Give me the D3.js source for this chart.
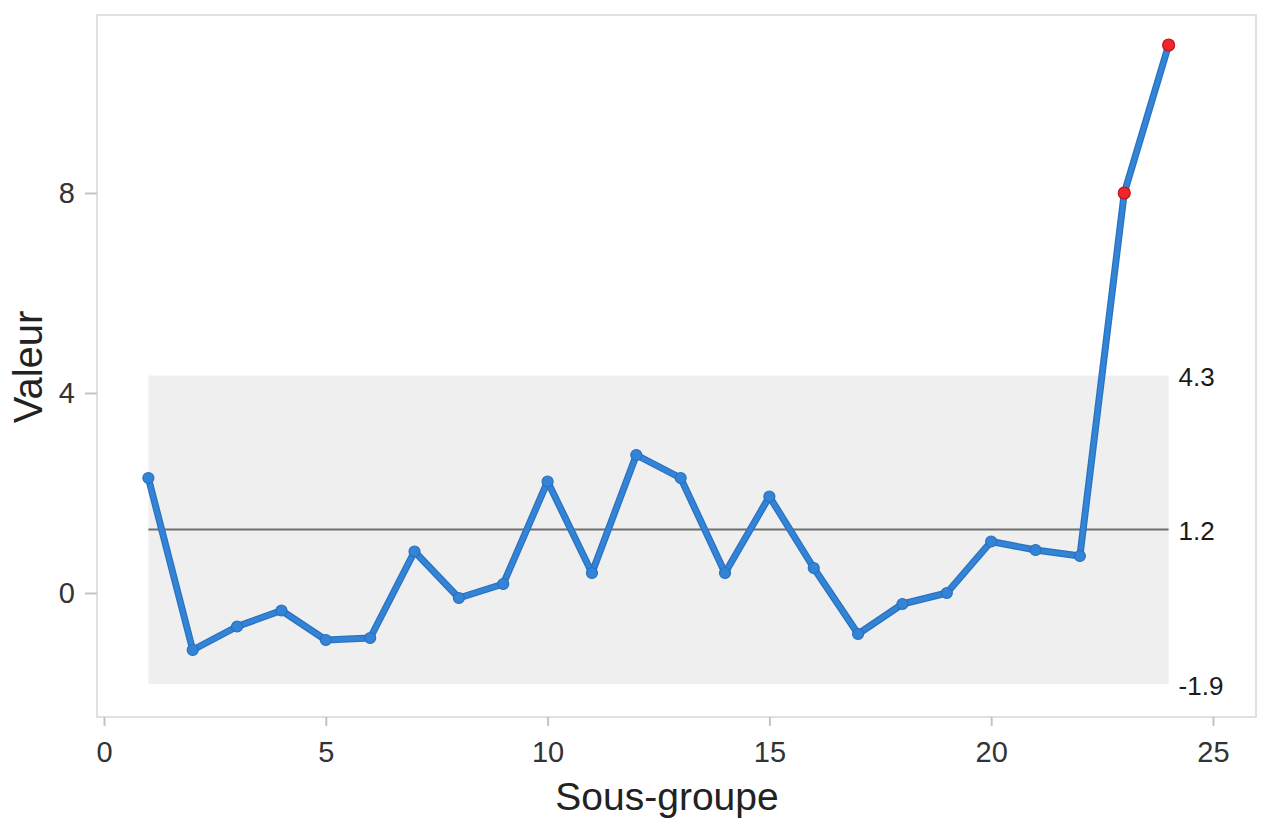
<!DOCTYPE html>
<html>
<head>
<meta charset="utf-8">
<script src="https://cdn.jsdelivr.net/npm/d3@7"></script>
<style>
  body { margin: 0; background: #fff; }
  svg { display: block; font-family: "Liberation Sans", Arial, sans-serif; }
</style>
</head>
<body>
<div id="chart"></div>
<script>
// subgroups and measured values
const subgroups = d3.range(1, 25);
const values = [2.3, -1.14, -0.67, -0.35, -0.94, -0.9, 0.83, -0.1, 0.18, 2.23,
                0.4, 2.76, 2.3, 0.4, 1.93, 0.5, -0.82, -0.22, 0.0, 1.03,
                0.86, 0.74, 8.0, 10.96];

// control limits
const limitValues = [4.35, 1.27, -1.82];
const limitLabels = ["4.3", "1.2", "-1.9"];

const xTicks = [0, 5, 10, 15, 20, 25];
const yTicks = [0, 4, 8];

const W = 1265, H = 832;
const mLeft = 97, mRight = 1256, mTop = 15, mBottom = 717;

const x = d3.scaleLinear().domain([-0.158, 25.97]).range([mLeft, mRight]);
const y = d3.scaleLinear().domain([-2.48, 11.56]).range([mBottom, mTop]);

const data = subgroups.map((s, i) => ({ s, v: values[i] }));
const [ucl, cl, lcl] = limitValues;
const xFirst = x(subgroups[0]), xLast = x(subgroups[subgroups.length - 1]);

const svg = d3.select('#chart').append('svg')
  .attr('width', W)
  .attr('height', H);

// control band
svg.append('rect')
  .attr('x', xFirst)
  .attr('y', y(ucl))
  .attr('width', xLast - xFirst)
  .attr('height', y(lcl) - y(ucl))
  .attr('fill', '#efefef');

// centre line
svg.append('line')
  .attr('x1', xFirst)
  .attr('x2', xLast)
  .attr('y1', y(cl))
  .attr('y2', y(cl))
  .attr('stroke', '#6f6f6f')
  .attr('stroke-width', 2);

// frame
svg.append('rect')
  .attr('x', mLeft)
  .attr('y', mTop)
  .attr('width', mRight - mLeft)
  .attr('height', mBottom - mTop)
  .attr('fill', 'none')
  .attr('stroke', '#e0e0e0')
  .attr('stroke-width', 2);

// axes
const xAxis = svg.append('g')
  .attr('transform', `translate(0,${mBottom})`)
  .call(d3.axisBottom(x).tickValues(xTicks).tickSize(9).tickPadding(15).tickFormat(d3.format('d')));
const yAxis = svg.append('g')
  .attr('transform', `translate(${mLeft},0)`)
  .call(d3.axisLeft(y).tickValues(yTicks).tickSize(12).tickPadding(10).tickFormat(d3.format('d')));

[xAxis, yAxis].forEach(a => {
  a.select('.domain').remove();
  a.selectAll('.tick line').attr('stroke', '#c4c4c4').attr('stroke-width', 2);
  a.selectAll('.tick text')
    .style('font-size', '29px')
    .style('font-family', '"Liberation Sans", Arial, sans-serif')
    .attr('fill', '#333');
});

// limit labels
svg.append('g')
  .selectAll('text')
  .data(limitValues)
  .join('text')
  .attr('x', xLast + 10)
  .attr('y', d => y(d) + 4)
  .attr('dominant-baseline', 'middle')
  .style('font-size', '26px')
  .attr('fill', '#1a1a1a')
  .text((d, i) => limitLabels[i]);

// series line
const line = d3.line().x(d => x(d.s)).y(d => y(d.v));
svg.append('path')
  .datum(data)
  .attr('fill', 'none')
  .attr('stroke', '#2a72c0')
  .attr('stroke-width', 7)
  .attr('stroke-linejoin', 'round')
  .attr('d', line);
svg.append('path')
  .datum(data)
  .attr('fill', 'none')
  .attr('stroke', '#3383d6')
  .attr('stroke-width', 4.5)
  .attr('stroke-linejoin', 'round')
  .attr('d', line);

// points, red when out of control
const out = d => d.v > ucl || d.v < lcl;
svg.append('g')
  .selectAll('circle')
  .data(data)
  .join('circle')
  .attr('cx', d => x(d.s))
  .attr('cy', d => y(d.v))
  .attr('r', d => out(d) ? 6 : 5.5)
  .attr('fill', d => out(d) ? '#f0242c' : '#3383d6')
  .attr('stroke', d => out(d) ? '#c0141c' : '#2a70bd')
  .attr('stroke-width', 1.2);

// axis titles
svg.append('text')
  .attr('x', 667)
  .attr('y', 810)
  .attr('text-anchor', 'middle')
  .style('font-size', '39px')
  .attr('fill', '#222')
  .text('Sous-groupe');

svg.append('text')
  .attr('transform', 'translate(42,367) rotate(-90)')
  .attr('text-anchor', 'middle')
  .style('font-size', '40px')
  .attr('fill', '#222')
  .text('Valeur');
</script>
</body>
</html>
